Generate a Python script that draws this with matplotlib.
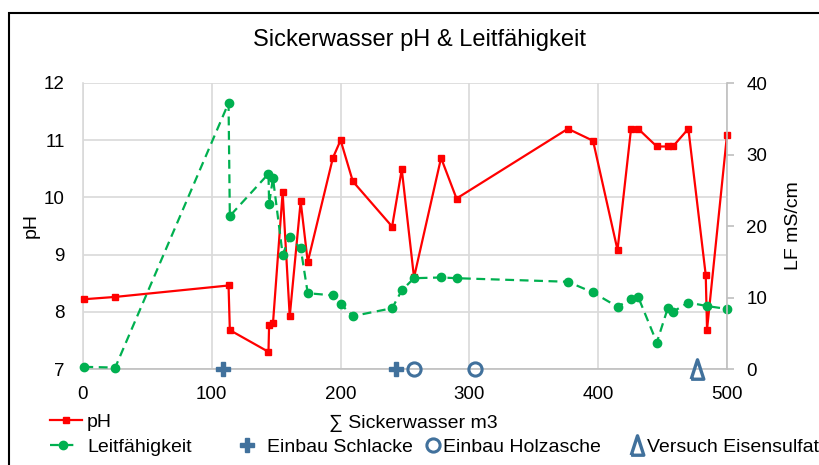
import numpy as np
import matplotlib
matplotlib.use("Agg")
import matplotlib.pyplot as plt
from matplotlib.patches import Rectangle

plt.rcParams['font.family'] = ['Liberation Sans', 'DejaVu Sans']

# pH measurements (x = cumulative Sickerwasser m3)
x_ph = [1, 25, 113, 114, 144, 144.5, 147.5, 155, 160.5, 169, 174.5, 194, 200, 209.5,
        240, 247.5, 257, 278, 290, 376.5, 396, 415, 425.5, 431, 445.5, 454, 458,
        470, 483.5, 484.5, 500]
ph = [8.22, 8.26, 8.46, 7.68, 7.3, 7.77, 7.8, 10.09, 7.92, 9.93, 8.87, 10.69, 11.0, 10.28,
      9.49, 10.49, 8.6, 10.69, 9.98, 11.2, 10.99, 9.08, 11.2, 11.2, 10.89, 10.89, 10.89,
      11.2, 8.64, 7.69, 11.09]

# Leitfaehigkeit (mS/cm)
x_lf = [1, 25, 113, 114, 144, 144.5, 147.5, 155, 160.5, 169, 174.5, 194, 200, 209.5,
        240, 247.5, 257, 278, 290, 376.5, 396, 415, 425.5, 431, 445.5, 454, 458,
        470, 484.5, 500]
lf = [0.3, 0.2, 37.2, 21.4, 27.3, 23.1, 26.7, 16.0, 18.4, 16.9, 10.6, 10.3, 9.1, 7.4,
      8.5, 11.0, 12.7, 12.8, 12.7, 12.2, 10.7, 8.7, 9.8, 10.1, 3.7, 8.5, 8.0,
      9.3, 8.8, 8.4]

# events
x_schlacke = [109, 243]
x_holzasche = [257, 304]
x_eisensulfat = [477]

fig = plt.figure(figsize=(8.2, 4.65), dpi=100)
ax = fig.add_axes([83/820, 96/465, 644/820, 286/465])
ax2 = ax.twinx()

ev_col = '#41719c'
grid_col = '#d9d9d9'

l_ph, = ax.plot(x_ph, ph, color='#ff0000', lw=1.6, marker='s', ms=4, zorder=3,
                clip_on=False)
l_lf, = ax2.plot(x_lf, lf, color='#00b050', lw=1.6, ls=(0, (4, 2.5)), marker='o', ms=6,
                 clip_on=False)

l_s, = ax2.plot(x_schlacke, [0]*len(x_schlacke), ls='none', marker='P', ms=10,
                color=ev_col, mec=ev_col, clip_on=False, zorder=5)
l_h, = ax2.plot(x_holzasche, [0]*len(x_holzasche), ls='none', marker='o', ms=9.5,
                mfc='none', mec=ev_col, mew=2.2, clip_on=False, zorder=5)
tri = [(-0.65, -1), (0.65, -1), (0, 1), (-0.65, -1)]
l_e, = ax2.plot(x_eisensulfat, [0]*len(x_eisensulfat), ls='none', marker=tri, ms=14,
                mfc='none', mec=ev_col, mew=2.4, clip_on=False, zorder=5)

ax.set_xlim(0, 500)
ax.set_ylim(7, 12)
ax2.set_ylim(0, 40)
ax.set_xticks(range(0, 501, 100))
ax.set_yticks(range(7, 13))
ax2.set_yticks(range(0, 41, 10))

ax.grid(True, color=grid_col, lw=1.2)
ax.set_axisbelow(True)
ax.tick_params(axis='x', length=0, pad=12, labelsize=13.5)
ax.tick_params(axis='y', length=0, pad=13, labelsize=13.5)
ax2.tick_params(axis='y', length=5, width=1.2, color='#bfbfbf', pad=9, labelsize=13.5)

for s in ['top', 'right']:
    ax.spines[s].set_visible(False)
ax.spines['left'].set_color(grid_col)
ax.spines['bottom'].set_color('#bfbfbf')
for s in ['top', 'left', 'bottom']:
    ax2.spines[s].set_visible(False)
ax2.spines['right'].set_color('#bfbfbf')
ax2.spines['right'].set_linewidth(1.2)
ax.spines['bottom'].set_linewidth(1.2)
ax.spines['left'].set_linewidth(1.2)

ax.set_ylabel('pH', fontsize=14, labelpad=3)
ax2.set_ylabel('LF mS/cm', fontsize=14, labelpad=13)

fig.text(420/820, 1 - 46/465, 'Sickerwasser pH & Leitfähigkeit', ha='center',
         va='baseline', fontsize=17)
fig.text(413/820, 1 - 428/465, '∑ Sickerwasser m3', ha='center', va='baseline',
         fontsize=14)

# legend entries placed like the original layout
def entry(h, label, x0, y, hl, pad):
    fig.legend([h], [label], loc='center left', bbox_to_anchor=(x0/820, 1 - y/465),
               frameon=False, handlelength=hl, handletextpad=pad, borderpad=0,
               borderaxespad=0, fontsize=14, numpoints=1)

entry(l_ph, 'pH', 50, 422, 1.65, 0.25)
entry(l_lf, 'Leitfähigkeit', 50, 447, 1.3, 0.6)
entry(l_s, 'Einbau Schlacke', 238, 447, 0.95, 0.55)
entry(l_h, 'Einbau Holzasche', 427, 447, 0.6, 0.2)
entry(l_e, 'Versuch Eisensulfat', 631, 447, 0.6, 0.2)

# chart frame (cut off on the right/bottom)
fig.patches.append(Rectangle((9/820, -0.2), 1.5, 1.2 - 13/465,
                             transform=fig.transFigure, fill=False, ec='black',
                             lw=1.5))

fig.savefig('out.png', dpi=100)
